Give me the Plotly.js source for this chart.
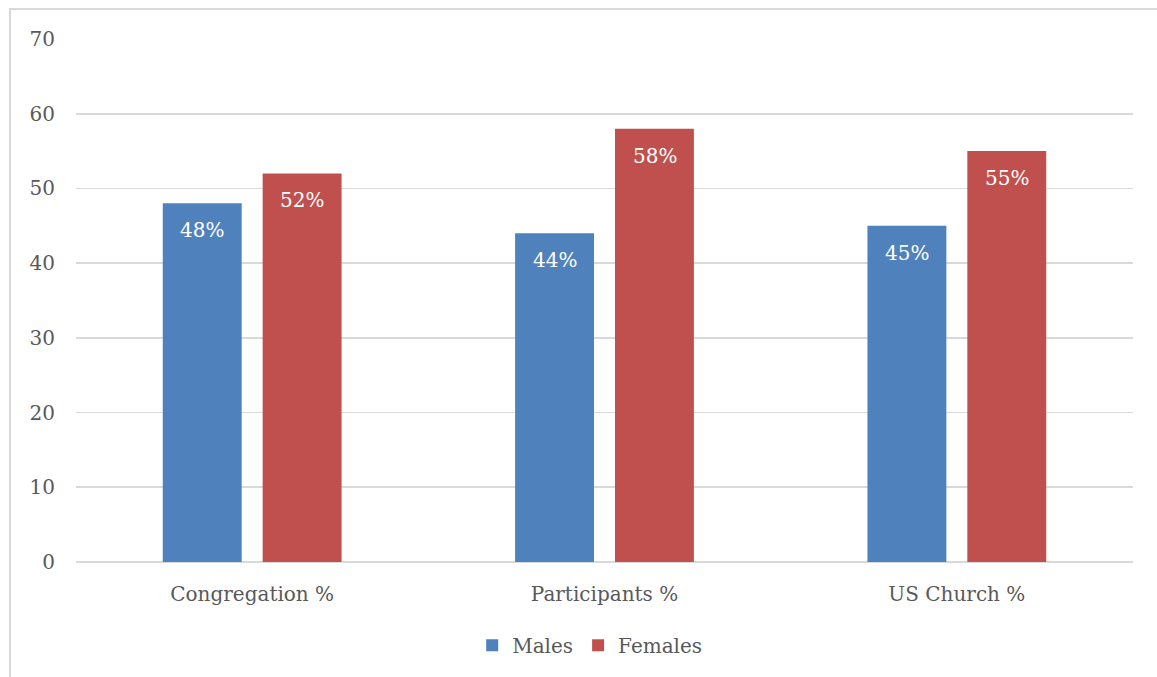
<!DOCTYPE html>
<html>
<head>
<meta charset="utf-8">
<script src="https://cdn.plot.ly/plotly-3.0.1.min.js"></script>
<style>
  html, body { margin: 0; padding: 0; width: 1157px; height: 677px; overflow: hidden; background: #ffffff; }
  #frame { position: absolute; left: 9px; top: 8px; width: 1200px; height: 720px; border: 2px solid #d9d9d9; background: #ffffff; }
  #chart { position: absolute; left: 0; top: 0; width: 1157px; height: 677px; }
</style>
</head>
<body>
<div id="frame"></div>
<div id="chart"></div>
<script>
// Gender split by group
const categories = ["Congregation %", "Participants %", "US Church %"];
const males = [48, 44, 45];
const females = [52, 58, 55];
const seriesNames = ["Males", "Females"];
const seriesColors = ["#4f81bd", "#c0504d"];

const FONT = "DejaVu Serif, Liberation Serif, serif";
const values = [males, females];

const traces = values.map((vals, i) => ({
  type: "bar",
  name: seriesNames[i],
  x: categories,
  y: vals,
  marker: { color: seriesColors[i] },
  hoverinfo: "none"
}));

// Value labels just inside the top of each bar
const annotations = [];
values.forEach((vals, i) => {
  vals.forEach((v, j) => {
    annotations.push({
      x: categories[j], y: v, xref: "x", yref: "y",
      text: v + "%", showarrow: false,
      xshift: i === 0 ? -50 : 50, yshift: -27,
      font: { family: FONT, size: 20, color: "#ffffff" }
    });
  });
});

const layout = {
  width: 1157, height: 677,
  margin: { l: 76, r: 24, t: 39, b: 113 },
  paper_bgcolor: "rgba(0,0,0,0)",
  plot_bgcolor: "rgba(0,0,0,0)",
  barmode: "group",
  bargap: 0.433,
  bargroupgap: 0.21,
  font: { family: FONT, size: 20, color: "#595959" },
  xaxis: {
    type: "category",
    showgrid: false, zeroline: false, showline: false,
    ticks: "", ticklabelstandoff: 18,
    tickfont: { family: FONT, size: 20, color: "#595959" }
  },
  yaxis: {
    range: [0, 70], dtick: 10, tick0: 0,
    showgrid: true, gridcolor: "#d9d9d9", gridwidth: 1.6,
    zeroline: true, zerolinecolor: "#d9d9d9", zerolinewidth: 1.6,
    showline: false, ticks: "", ticklabelstandoff: 20,
    tickfont: { family: FONT, size: 20, color: "#595959" }
  },
  showlegend: true,
  legend: {
    orientation: "h", x: 0.486, xanchor: "center", y: -0.122, yanchor: "top",
    font: { family: FONT, size: 20, color: "#595959" },
    itemclick: false, itemdoubleclick: false
  },
  annotations: annotations
};

Plotly.newPlot("chart", traces, layout, { displayModeBar: false, staticPlot: true });
</script>
</body>
</html>
